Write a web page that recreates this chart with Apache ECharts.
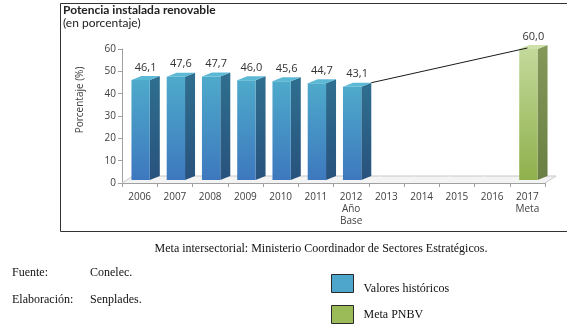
<!DOCTYPE html>
<html>
<head>
<meta charset="utf-8">
<script src="https://cdn.jsdelivr.net/npm/echarts@6/dist/echarts.min.js"></script>
<style>html,body{margin:0;padding:0;background:#fff;}#c{width:567px;height:331px;}</style>
</head>
<body>
<div id="c"></div>
<script>
const years = ['2006','2007','2008','2009','2010','2011','2012','2013','2014','2015','2016','2017'];
const tickLabels = ['2006','2007','2008','2009','2010','2011','2012\nAño\nBase','2013','2014','2015','2016','2017\nMeta'];
const historic = [46.1, 47.6, 47.7, 46.0, 45.6, 44.7, 43.1, null, null, null, null, null];
const goal = [null, null, null, null, null, null, null, null, null, null, null, 60.0];
const yMin = 0, yMax = 60, yStep = 10;
const baseYear = '2012', goalYear = '2017';

const chart = echarts.init(document.getElementById('c'), null, {renderer: 'canvas'});

const DX = 10, DY = 4;
function lin(stops) { return {type: 'linear', x: 0, y: 0, x2: 0, y2: 1, colorStops: stops}; }
function makeBar(c) {
  return function (params, api) {
    const i = api.value(0), v = api.value(1);
    const base = api.coord([i, 0]);
    const top = api.coord([i, v]);
    const w = api.size([1, 0])[0] * 0.52;
    const x0 = top[0] - w / 2 + 1, x1 = x0 + w;
    const yT = top[1], yB = base[1] - 3;
    return {
      type: 'group',
      children: [
        {type: 'polygon', shape: {points: [[x1, yT], [x1 + DX, yT - DY], [x1 + DX, yB - DY], [x1, yB]]},
          style: {fill: lin([{offset: 0, color: c.side0}, {offset: 1, color: c.side1}])}},
        {type: 'rect', shape: {x: x0, y: yT, width: w, height: yB - yT},
          style: {fill: lin([{offset: 0, color: c.front0}, {offset: 1, color: c.front1}])}},
        {type: 'polygon', shape: {points: [[x0, yT], [x1, yT], [x1 + DX, yT - DY], [x0 + DX, yT - DY]]},
          style: {fill: c.top}},
        {type: 'text', x: (x0 + x1 + DX) / 2, y: yT - DY - 3,
          style: {text: v.toFixed(1).replace('.', ','), textAlign: 'center', textVerticalAlign: 'bottom',
            fontFamily: 'Open Sans', fontSize: 11, fill: '#333'}}
      ]
    };
  };
}
const FDX = 11, FDY = 7;
function floorItem(params, api) {
  const i = api.value(0);
  const c = api.coord([i, 0]);
  const w = api.size([1, 0])[0];
  const xa = c[0] - w / 2, xb = c[0] + w / 2, y = c[1];
  const ch = [
    {type: 'polygon', shape: {points: [[xa, y], [xb, y], [xb + FDX, y - FDY], [xa + FDX, y - FDY]]},
      style: {fill: '#f3f3f3'}},
    {type: 'line', shape: {x1: xa + FDX, y1: y - FDY, x2: xb + FDX, y2: y - FDY}, style: {stroke: '#c8c8c8', lineWidth: 1}}
  ];
  if (params.dataIndex === 0) ch.push({type: 'line', shape: {x1: xa, y1: y, x2: xa + FDX, y2: y - FDY}, style: {stroke: '#c8c8c8', lineWidth: 1}});
  if (params.dataIndex === years.length - 1) ch.push({type: 'line', shape: {x1: xb, y1: y, x2: xb + FDX, y2: y - FDY}, style: {stroke: '#c8c8c8', lineWidth: 1}});
  return {type: 'group', children: ch};
}
function trendItem(params, api) {
  const p1 = api.coord([api.value(0), api.value(1)]);
  const p2 = api.coord([api.value(2), api.value(3)]);
  const w = api.size([1, 0])[0] * 0.52;
  return {type: 'line', shape: {x1: p1[0] + w / 2 + 1 + DX, y1: p1[1] - DY, x2: p2[0], y2: p2[1] - 1},
    style: {stroke: '#1a1a1a', lineWidth: 1}};
}

const bi = years.indexOf(baseYear), gi = years.indexOf(goalYear);
const histData = historic.map((v, i) => [i, v]).filter(d => d[1] != null);
const goalData = goal.map((v, i) => [i, v]).filter(d => d[1] != null);

const serif = 'Liberation Serif';
function legendCfg(top, padTop, item) {
  return {
    left: 331, top: top, itemWidth: 22, itemHeight: 18, selectedMode: false, padding: 0,
    formatter: name => '{t|' + name + '}',
    textStyle: {rich: {t: {fontFamily: serif, fontSize: 12, color: '#111', padding: [padTop, 0, 0, 5]}}},
    data: [item]
  };
}
chart.setOption({
  animation: false,
  grid: {left: 122, right: 22, top: 49, bottom: 148, containLabel: false},
  legend: [
    legendCfg(274, 10, {name: 'Valores históricos', icon: 'rect', itemStyle: {color: '#4fa6cc', borderColor: '#2a2a2a', borderWidth: 1}}),
    legendCfg(305, 0, {name: 'Meta PNBV', icon: 'rect', itemStyle: {color: '#9bbb59', borderColor: '#2a2a2a', borderWidth: 1}})
  ],
  xAxis: {
    type: 'category', data: years,
    axisLine: {show: true, lineStyle: {color: '#a0a0a0'}},
    axisTick: {show: true, length: 4, lineStyle: {color: '#a0a0a0'}},
    axisLabel: {formatter: (v, i) => tickLabels[i], fontFamily: 'Open Sans', fontSize: 10, color: '#404040', lineHeight: 12, margin: 8}
  },
  yAxis: {
    type: 'value', min: yMin, max: yMax, interval: yStep,
    axisLine: {show: true, lineStyle: {color: '#a0a0a0'}},
    axisTick: {show: true, length: 4, lineStyle: {color: '#a0a0a0'}},
    splitLine: {show: false},
    axisLabel: {fontFamily: 'Open Sans', fontSize: 10, color: '#404040', margin: 6}
  },
  series: [
    {type: 'custom', name: 'floor', renderItem: floorItem, data: years.map((y, i) => [i, 0]), z: 1, silent: true},
    {type: 'custom', name: 'Valores históricos', z: 3,
      itemStyle: {color: '#4fa6cc'},
      renderItem: makeBar({front0: '#4eaacb', front1: '#3d78be', side0: '#2f6f8f', side1: '#28527d', top: '#5cb9d6'}),
      data: histData},
    {type: 'custom', name: 'Meta PNBV', z: 3,
      itemStyle: {color: '#9bbb59'},
      renderItem: makeBar({front0: '#c3d99a', front1: '#8fb04c', side0: '#84985a', side1: '#6a7f43', top: '#cfe0ab'}),
      data: goalData},
    {type: 'custom', name: 'trend', z: 4, renderItem: trendItem,
      encode: {x: [0, 2], y: [1, 3]},
      data: [[bi, historic[bi], gi, goal[gi]]]}
  ],
  graphic: [
    {type: 'rect', left: 58, top: 1, shape: {width: 507, height: 228}, style: {fill: 'none', stroke: '#333', lineWidth: 1}, z: 0},
    {type: 'text', left: 63, top: 4, style: {text: 'Potencia instalada renovable', fontFamily: 'Lato', fontWeight: 'bold', fontSize: 12, fill: '#222'}},
    {type: 'text', left: 63, top: 17, style: {text: '(en porcentaje)', fontFamily: 'Lato', fontSize: 12, fill: '#222'}},
    {type: 'text', x: 80, y: 100, rotation: Math.PI / 2, style: {text: 'Porcentaje (%)', fontFamily: 'Open Sans', fontSize: 10, fill: '#404040', textAlign: 'center', textVerticalAlign: 'middle'}},
    {type: 'text', x: 321, y: 249, style: {text: 'Meta intersectorial: Ministerio Coordinador de Sectores Estratégicos.', fontFamily: serif, fontSize: 12, fill: '#111', textAlign: 'center', textVerticalAlign: 'middle'}},
    {type: 'text', x: 12, y: 273, style: {text: 'Fuente:', fontFamily: serif, fontSize: 12, fill: '#111', textVerticalAlign: 'middle'}},
    {type: 'text', x: 90, y: 273, style: {text: 'Conelec.', fontFamily: serif, fontSize: 12, fill: '#111', textVerticalAlign: 'middle'}},
    {type: 'text', x: 12, y: 300, style: {text: 'Elaboración:', fontFamily: serif, fontSize: 12, fill: '#111', textVerticalAlign: 'middle'}},
    {type: 'text', x: 90, y: 300, style: {text: 'Senplades.', fontFamily: serif, fontSize: 12, fill: '#111', textVerticalAlign: 'middle'}}
  ]
});
</script>
</body>
</html>
